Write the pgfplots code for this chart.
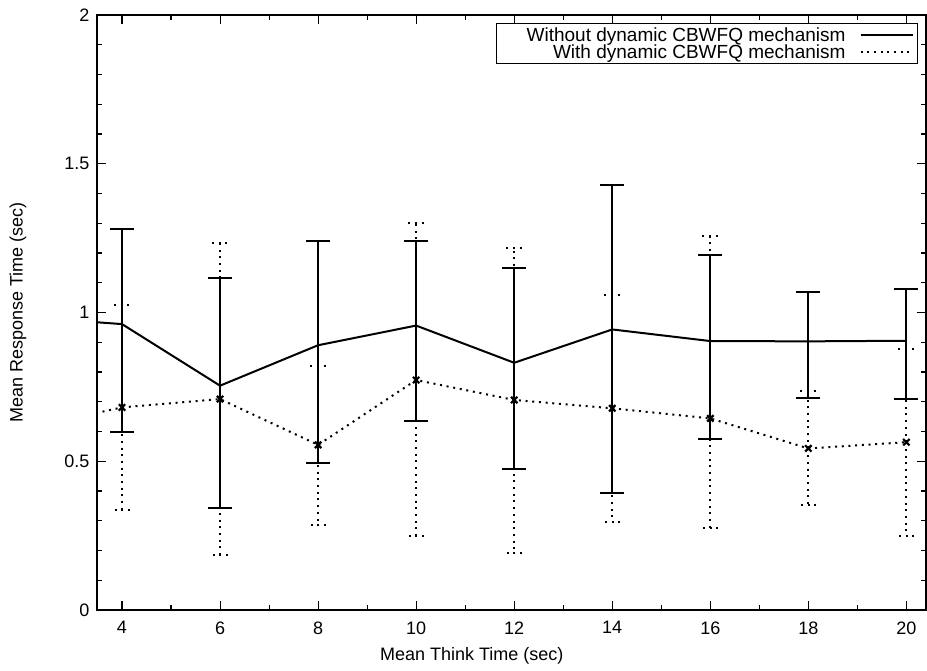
\documentclass[border=0pt]{standalone}
\usepackage{fontspec}
\setmainfont{Liberation Sans}
\usepackage{pgfplots}
\usepackage{pgfplotstable}
\pgfplotsset{compat=1.18}

\pgfplotstableread{
x y hi lo
2 0.985 0.985 0.985
4 0.961 1.281 0.599
6 0.754 1.115 0.343
8 0.890 1.240 0.495
10 0.956 1.241 0.635
12 0.831 1.148 0.473
14 0.943 1.429 0.392
16 0.904 1.193 0.575
18 0.903 1.070 0.714
20 0.905 1.078 0.709
}\without

\pgfplotstableread{
x y hi lo
2 0.609 0.609 0.609
4 0.681 1.026 0.336
6 0.709 1.233 0.184
8 0.555 0.819 0.286
10 0.773 1.300 0.249
12 0.706 1.218 0.190
14 0.678 1.059 0.297
16 0.644 1.256 0.277
18 0.543 0.737 0.352
20 0.564 0.876 0.250
}\withdyn

\newcommand{\fs}{\fontsize{18}{19}\selectfont}
\newcommand{\fl}{\fontsize{19}{19}\selectfont}

\begin{document}
\begin{tikzpicture}
\begin{axis}[
  at={(0pt,0pt)}, anchor=south west,
  scale only axis, width=829pt, height=595pt,
  xmin=3.49, xmax=20.4, ymin=0, ymax=2,
  xtick={4,6,...,20}, minor x tick num=1,
  ytick={0,0.5,1,1.5,2}, minor y tick num=4,
  tick align=inside, major tick length=9pt, minor tick length=5pt,
  every tick/.style={black, line width=1.1pt},
  axis line style={line width=1.4pt},
  /pgf/number format/assume math mode=true,
  tick label style={font=\fs},
  xticklabel style={yshift=-8pt},
  yticklabel style={xshift=-4pt},
  label style={font=\fs},
  xlabel={Mean Think Time (sec)},
  ylabel={Mean Response Time (sec)},
  xlabel style={at={(axis description cs:0.452,0)}, anchor=center, yshift=-46pt},
  ylabel style={at={(axis description cs:-0.0953,0.5)}, anchor=center},
  legend plot pos=right,
  legend cell align=right,
  legend image code/.code={\draw[#1,mark=none] (0pt,0pt) -- (52pt,0pt);},
  legend style={at={(0.9903,0.9866)}, anchor=north east, draw=black, line width=0.9pt,
    font=\fl, row sep=-2pt, column sep=12pt, inner xsep=4pt, inner ysep=2pt,
    nodes={inner sep=2pt}},
  clip=true,
]
\addplot[black, line width=2pt, mark=none,
  error bars/.cd, y dir=both, y explicit,
  error bar style={line width=2pt, solid},
  error mark options={line width=2pt, mark size=12pt, solid, rotate=90}]
  table[x=x, y=y, y error plus expr=\thisrow{hi}-\thisrow{y}, y error minus expr=\thisrow{y}-\thisrow{lo}] {\without};
\addlegendentry{\hspace*{24pt}Without dynamic CBWFQ mechanism}
\addplot[black, line width=2pt, dash pattern=on 2pt off 4.7pt,
  mark=x, mark size=4.5pt, mark options={solid, line width=2.2pt},
  error bars/.cd, y dir=both, y explicit,
  error bar style={line width=2pt, dash pattern=on 2pt off 4.7pt},
  error mark options={line width=2pt, mark size=8pt, dash pattern=on 2pt off 4.7pt, rotate=90}]
  table[x=x, y=y, y error plus expr=\thisrow{hi}-\thisrow{y}, y error minus expr=\thisrow{y}-\thisrow{lo}] {\withdyn};
\addlegendentry{With dynamic CBWFQ mechanism}
\end{axis}
\pgfresetboundingbox
\path[use as bounding box] (-97pt,-61pt) rectangle (830pt,610pt);
\end{tikzpicture}
\end{document}
